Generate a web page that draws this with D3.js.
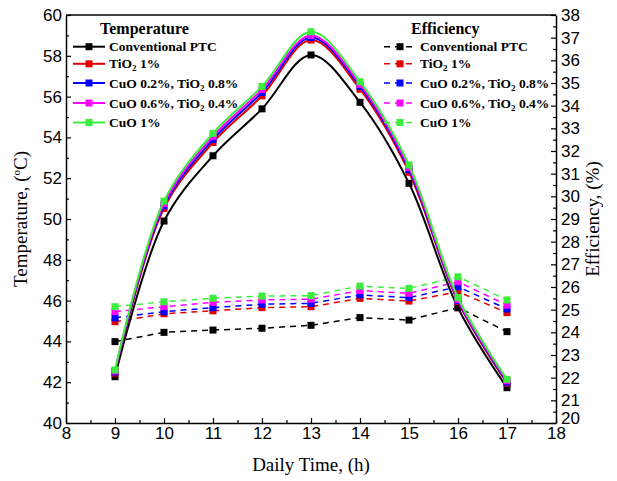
<!DOCTYPE html>
<html><head><meta charset="utf-8">
<script src="https://cdn.jsdelivr.net/npm/d3@7/dist/d3.min.js"></script>
<style>body{margin:0;background:#fff}</style>
</head><body>
<svg id="c" width="617" height="481"></svg>
<script>
const hours = [9,10,11,12,13,14,15,16,17];
const seriesNames = ["Conventional PTC","TiO2 1%","CuO 0.2%, TiO2 0.8%","CuO 0.6%, TiO2 0.4%","CuO 1%"];
const tempConv  = [42.27, 49.9, 53.1, 55.4, 58.04, 55.72, 51.75, 45.65, 41.73];
const tempTiO2  = [42.44, 50.52, 53.75, 56.04, 58.77, 56.36, 52.29, 45.95, 41.95];
const tempCuO02 = [42.5, 50.65, 53.9, 56.2, 58.9, 56.5, 52.42, 46.0, 42.0];
const tempCuO06 = [42.55, 50.75, 54.05, 56.35, 59.0, 56.6, 52.52, 46.05, 42.07];
const tempCuO1  = [42.6, 50.88, 54.2, 56.5, 59.18, 56.73, 52.65, 46.15, 42.14];
const effConv  = [23.59, 24.0, 24.1, 24.18, 24.31, 24.65, 24.54, 25.09, 24.03];
const effTiO2  = [24.47, 24.82, 24.95, 25.09, 25.13, 25.5, 25.38, 25.79, 24.87];
const effCuO02 = [24.64, 24.91, 25.09, 25.24, 25.28, 25.65, 25.53, 26.01, 25.03];
const effCuO06 = [24.91, 25.13, 25.32, 25.43, 25.46, 25.84, 25.72, 26.23, 25.2];
const effCuO1  = [25.13, 25.35, 25.5, 25.6, 25.62, 26.04, 25.94, 26.45, 25.43];
const xTicks = [8,9,10,11,12,13,14,15,16,17,18];
const yLeftTicks = [40,42,44,46,48,50,52,54,56,58,60];
const yRightTicks = [20,21,22,23,24,25,26,27,28,29,30,31,32,33,34,35,36,37,38];

const colors = ["#000000","#e00000","#0000ff","#ff00ff","#3cee3c"];
const temps = [tempConv,tempTiO2,tempCuO02,tempCuO06,tempCuO1];
const effs = [effConv,effTiO2,effCuO02,effCuO06,effCuO1];

const svg = d3.select("#c");
const L=66,R=556,T=15,B=423;
const x = d3.scaleLinear().domain([8,18]).range([L,R]);
const yL = d3.scaleLinear().domain([40,60]).range([B,T]);
const yR = d3.scaleLinear().domain([20,38]).range([B,T]);
const tickFont = "Liberation Sans, Arial, sans-serif";
const serif = "Liberation Serif, Times New Roman, serif";

function styleAxis(g){
  g.selectAll("path").attr("stroke","#000").attr("stroke-width",1.5);
  g.selectAll("line").attr("stroke","#000").attr("stroke-width",1.2);
  g.selectAll("text").attr("font-family",tickFont).attr("font-size",17).attr("fill","#000");
}
const minorX = d3.range(8.5,18,1);
const minorL = d3.range(41,60,2);
const minorR = d3.range(20.5,38,1);

svg.append("g").attr("transform",`translate(0,${B})`)
  .call(d3.axisBottom(x).tickValues(minorX).tickSize(-3).tickFormat(""))
  .call(g=>{g.select("path").remove();g.selectAll("line").attr("stroke","#000").attr("stroke-width",1.2);});
svg.append("g").attr("transform",`translate(${L},0)`)
  .call(d3.axisLeft(yL).tickValues(minorL).tickSize(-3).tickFormat(""))
  .call(g=>{g.select("path").remove();g.selectAll("line").attr("stroke","#000").attr("stroke-width",1.2);});
svg.append("g").attr("transform",`translate(${R},0)`)
  .call(d3.axisRight(yR).tickValues(minorR).tickSize(-3).tickFormat(""))
  .call(g=>{g.select("path").remove();g.selectAll("line").attr("stroke","#000").attr("stroke-width",1.2);});

svg.append("g").attr("transform",`translate(0,${B})`)
  .call(d3.axisBottom(x).tickValues(xTicks).tickSize(-5).tickSizeOuter(0).tickPadding(4).tickFormat(d3.format("d")))
  .call(styleAxis);
svg.append("g").attr("transform",`translate(${L},0)`)
  .call(d3.axisLeft(yL).tickValues(yLeftTicks).tickSize(-5).tickSizeOuter(0).tickPadding(4).tickFormat(d3.format("d")))
  .call(styleAxis);
svg.append("g").attr("transform",`translate(${R},0)`)
  .call(d3.axisRight(yR).tickValues(yRightTicks).tickSize(-5).tickSizeOuter(0).tickPadding(5).tickFormat(d3.format("d")))
  .call(styleAxis)
  .call(g=>g.selectAll(".tick").filter(d=>d===20).select("text").attr("dy","0.05em"));
svg.append("line").attr("x1",L).attr("x2",R).attr("y1",T).attr("y2",T).attr("stroke","#000").attr("stroke-width",1.5);

effs.forEach((s,i)=>{
  const line = d3.line().x((d,j)=>x(hours[j])).y(d=>yR(d));
  svg.append("path").datum(s).attr("d",line).attr("fill","none")
    .attr("stroke",colors[i]).attr("stroke-width",1.5).attr("stroke-dasharray","6,5");
  svg.selectAll(null).data(s).enter().append("rect")
    .attr("x",(d,j)=>x(hours[j])-3.5).attr("y",d=>yR(d)-3.5).attr("width",7).attr("height",7)
    .attr("fill",colors[i]);
});
temps.forEach((s,i)=>{
  const line = d3.line().x((d,j)=>x(hours[j])).y(d=>yL(d)).curve(d3.curveCatmullRom.alpha(0.5));
  svg.append("path").datum(s).attr("d",line).attr("fill","none")
    .attr("stroke",colors[i]).attr("stroke-width",2);
  svg.selectAll(null).data(s).enter().append("rect")
    .attr("x",(d,j)=>x(hours[j])-3.5).attr("y",d=>yL(d)-3.5).attr("width",7).attr("height",7)
    .attr("fill",colors[i]);
});

function label(sel,name){
  const parts = name.split("TiO2");
  parts.forEach((p,k)=>{
    if(k>0){
      sel.append("tspan").text("TiO");
      sel.append("tspan").text("2").attr("font-size",9).attr("dy",3);
      sel.append("tspan").text(p).attr("dy",-3);
    } else if(p) sel.append("tspan").text(p);
  });
}
const rowsY = [46.7,63.8,83,103,122.5];
function legend(x0,title,dashed){
  svg.append("text").attr("x",x0+27).attr("y",34).text(title)
    .attr("font-family",serif).attr("font-weight","bold").attr("font-size",16);
  seriesNames.forEach((n,i)=>{
    const y=rowsY[i];
    svg.append("line").attr("x1",x0).attr("x2",x0+32).attr("y1",y).attr("y2",y)
      .attr("stroke",colors[i]).attr("stroke-width",dashed?1.5:2).attr("stroke-dasharray",dashed?"6,5":null);
    svg.append("rect").attr("x",x0+16-3.5).attr("y",y-3.5).attr("width",7).attr("height",7).attr("fill",colors[i]);
    const t=svg.append("text").attr("x",x0+36).attr("y",y+4.5)
      .attr("font-family",serif).attr("font-weight","bold").attr("font-size",13.5);
    label(t,n);
  });
}
legend(73,"Temperature",false);
legend(384,"Efficiency",true);

svg.append("text").attr("x",x(13)).attr("y",471).attr("text-anchor","middle")
  .attr("font-family",serif).attr("font-size",19).text("Daily Time, (h)");
const lt = svg.append("text").attr("transform",`translate(27,${(T+B)/2}) rotate(-90)`).attr("text-anchor","middle")
  .attr("font-family",serif).attr("font-size",19);
lt.append("tspan").text("Temperature, (");
lt.append("tspan").text("o").attr("font-size",11).attr("dy",-7);
lt.append("tspan").text("C)").attr("dy",7);
svg.append("text").attr("transform",`translate(599,${(T+B)/2}) rotate(-90)`).attr("text-anchor","middle")
  .attr("font-family",serif).attr("font-size",19).text("Efficiency, (%)");
</script>
</body></html>
